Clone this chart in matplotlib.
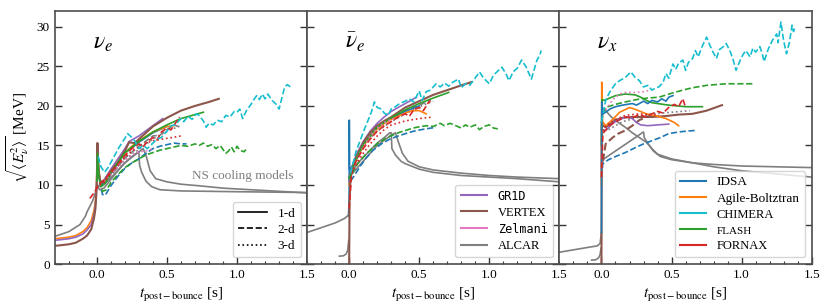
import matplotlib
matplotlib.use('Agg')
import matplotlib.pyplot as plt
from matplotlib.ticker import MultipleLocator
from matplotlib.lines import Line2D

plt.rcParams['font.family'] = 'Liberation Serif'
plt.rcParams['mathtext.fontset'] = 'stix'
plt.rcParams['font.size'] = 9.5

# ---------------- nu_e ----------------
t_nue_vertex = [-0.3, -0.2, -0.15, -0.1, -0.07, -0.04, -0.02, -0.01, -0.003, 0.0, 0.004, 0.012, 0.025, 0.05, 0.1, 0.15, 0.2, 0.23, 0.27, 0.3, 0.4, 0.5, 0.6, 0.7, 0.8, 0.87]
E_nue_vertex = [2.3, 2.5, 2.7, 3.2, 3.6, 4.4, 5.8, 7.0, 9.0, 10.5, 15.3, 12.0, 10.2, 10.4, 11.8, 12.9, 14.3, 15.4, 15.3, 15.8, 17.4, 18.5, 19.4, 20.0, 20.5, 20.9]
t_nue_gr1d = [-0.3, -0.2, -0.15, -0.1, -0.07, -0.04, -0.02, -0.01, -0.003, 0.0, 0.004, 0.012, 0.025, 0.05, 0.1, 0.15, 0.2, 0.23, 0.3, 0.4, 0.47]
E_nue_gr1d = [3.0, 3.2, 3.4, 3.8, 4.3, 5.0, 6.3, 7.5, 9.5, 11.0, 15.3, 12.0, 10.4, 10.6, 12.0, 13.3, 14.6, 15.5, 16.2, 17.5, 18.4]
t_nue_agile = [-0.3, -0.2, -0.15, -0.1, -0.07, -0.04, -0.02, -0.01, -0.003, 0.0, 0.004, 0.015, 0.03, 0.06, 0.1, 0.15, 0.2, 0.25, 0.3, 0.4, 0.5, 0.55]
E_nue_agile = [3.2, 3.4, 3.6, 4.1, 4.6, 5.5, 6.8, 8.0, 10.0, 11.5, 14.5, 11.5, 10.3, 10.5, 11.7, 12.9, 14.0, 14.9, 15.6, 16.7, 17.4, 17.5]
t_nue_idsa1 = [0.0, 0.004, 0.015, 0.03, 0.06, 0.1, 0.2, 0.3, 0.4, 0.5]
E_nue_idsa1 = [11.0, 14.8, 11.0, 10.0, 10.3, 11.5, 14.0, 15.4, 16.6, 17.4]
t_nue_flash1 = [0.0, 0.005, 0.015, 0.03, 0.06, 0.1, 0.2, 0.3, 0.4, 0.5, 0.6, 0.7, 0.76]
E_nue_flash1 = [10.5, 14.0, 11.0, 9.8, 10.2, 11.5, 14.1, 15.5, 16.7, 17.6, 18.4, 18.9, 19.2]
t_nue_flash2 = [0.02, 0.04, 0.07, 0.1, 0.15, 0.2, 0.25, 0.3, 0.35, 0.4, 0.45, 0.5, 0.55, 0.6, 0.65, 0.7, 0.73, 0.76, 0.79, 0.82, 0.85, 0.88, 0.9, 0.92, 0.94, 0.96, 0.98, 1.0, 1.02, 1.05, 1.07]
E_nue_flash2 = [10.5, 9.2, 9.4, 10.3, 11.3, 12.2, 12.8, 13.3, 13.8, 14.1, 14.4, 14.6, 14.8, 15.0, 14.9, 15.2, 15.0, 15.3, 14.9, 15.1, 14.6, 15.0, 14.5, 14.0, 14.3, 14.8, 14.2, 14.9, 14.4, 14.2, 14.6]
t_nue_idsa2 = [0.02, 0.04, 0.06, 0.1, 0.15, 0.2, 0.25, 0.3, 0.35, 0.4, 0.45, 0.5, 0.55, 0.6, 0.64]
E_nue_idsa2 = [10.5, 8.8, 8.7, 9.9, 11.1, 12.1, 12.8, 13.3, 14.0, 14.6, 14.9, 15.1, 15.3, 15.2, 15.2]
t_nue_chimera = [0.01, 0.03, 0.055, 0.08, 0.12, 0.16, 0.2, 0.22, 0.25, 0.27, 0.3, 0.33, 0.36, 0.4, 0.43, 0.46, 0.5, 0.53, 0.56, 0.6, 0.62, 0.65, 0.68, 0.71, 0.73, 0.76, 0.78, 0.8, 0.83, 0.86, 0.89, 0.92, 0.95, 0.98, 1.0, 1.02, 1.04, 1.07, 1.1, 1.12, 1.14, 1.16, 1.18, 1.2, 1.22, 1.25, 1.28, 1.3, 1.32, 1.34, 1.36, 1.38]
E_nue_chimera = [13.6, 12.3, 11.6, 12.2, 13.5, 14.8, 15.9, 16.5, 16.0, 15.6, 14.6, 15.0, 14.6, 15.3, 15.8, 16.0, 16.8, 17.5, 17.6, 18.4, 18.0, 18.7, 18.3, 19.0, 18.8, 18.1, 17.3, 17.8, 17.6, 18.2, 18.0, 18.8, 18.6, 19.3, 19.2, 19.6, 18.4, 19.5, 20.2, 20.8, 21.3, 20.8, 21.5, 20.9, 21.5, 20.7, 20.2, 19.6, 21.0, 22.4, 22.7, 22.4]
t_nue_fornax2 = [-0.05, -0.02, 0.0, 0.02, 0.05, 0.1, 0.15, 0.2, 0.25, 0.3, 0.33, 0.36, 0.4, 0.43, 0.46, 0.5, 0.53, 0.56, 0.59]
E_nue_fornax2 = [8.3, 9.0, 9.6, 10.2, 10.6, 11.6, 12.6, 13.7, 14.6, 15.2, 14.8, 15.5, 16.0, 15.7, 16.7, 17.2, 17.0, 17.8, 18.6]
t_nue_fornax3 = [0.02, 0.05, 0.1, 0.15, 0.2, 0.25, 0.3, 0.35, 0.4, 0.5, 0.6]
E_nue_fornax3 = [10.0, 10.3, 11.5, 12.5, 13.5, 14.3, 14.8, 15.3, 15.6, 15.9, 16.2]
t_nue_zelmani = [0.05, 0.1, 0.15, 0.2, 0.25, 0.3, 0.35, 0.4]
E_nue_zelmani = [10.5, 11.3, 12.3, 13.2, 13.8, 14.2, 14.3, 14.6]
t_nue_alcar1 = [-0.3, -0.2, -0.12, -0.08, -0.07, -0.05, -0.03, -0.01, 0.0]
E_nue_alcar1 = [3.5, 4.1, 5.0, 6.1, 6.6, 7.3, 8.0, 9.0, 10.0]
t_nue_alcar2 = [0.02, 0.05, 0.1, 0.2, 0.3, 0.4, 0.45, 0.5, 0.55, 0.58]
E_nue_alcar2 = [10.3, 10.2, 11.2, 13.4, 14.9, 16.2, 16.3, 17.0, 17.6, 17.4]
t_nue_alcar3 = [0.05, 0.1, 0.2, 0.3, 0.4, 0.5, 0.6]
E_nue_alcar3 = [10.5, 11.3, 13.2, 14.5, 15.8, 16.8, 17.5]
t_nue_cool_a = [0.0, 0.02, 0.05, 0.1, 0.15, 0.2, 0.25, 0.29, 0.3, 0.305, 0.32, 0.35, 0.39, 0.45, 0.6, 0.8, 1.0, 1.5]
E_nue_cool_a = [10.0, 9.4, 9.6, 10.7, 11.8, 12.8, 13.6, 14.1, 14.1, 12.5, 11.6, 10.5, 9.8, 9.4, 9.25, 9.2, 9.15, 9.05]
t_nue_cool_b = [0.0, 0.03, 0.1, 0.2, 0.3, 0.33, 0.35, 0.38, 0.42, 0.5, 0.6, 0.73, 0.9, 1.1, 1.3, 1.5]
E_nue_cool_b = [10.0, 9.8, 10.9, 12.8, 14.2, 14.6, 13.8, 11.8, 10.8, 10.4, 10.1, 9.9, 9.6, 9.4, 9.2, 9.0]

# ---------------- anti nu_e ----------------
t_nueb_vertex = [0.0, 0.003, 0.01, 0.03, 0.05, 0.1, 0.15, 0.2, 0.25, 0.3, 0.4, 0.5, 0.6, 0.7, 0.8, 0.87]
E_nueb_vertex = [0.0, 8.0, 11.0, 12.4, 13.5, 15.3, 16.6, 17.5, 18.1, 18.6, 19.8, 20.6, 21.4, 22.0, 22.6, 23.0]
t_nueb_gr1d = [0.0, 0.01, 0.03, 0.05, 0.1, 0.15, 0.2, 0.25, 0.3, 0.4, 0.48]
E_nueb_gr1d = [10.5, 11.5, 12.8, 13.8, 15.5, 16.8, 17.8, 18.6, 19.3, 20.3, 21.1]
t_nueb_agile = [0.0, 0.01, 0.03, 0.05, 0.1, 0.15, 0.2, 0.25, 0.3, 0.4, 0.45, 0.5, 0.55]
E_nueb_agile = [10.0, 11.3, 12.4, 13.2, 14.9, 16.2, 17.1, 17.8, 18.3, 19.1, 19.4, 19.4, 19.0]
t_nueb_idsa1 = [0.0, 0.001, 0.003, 0.01, 0.05, 0.1, 0.2, 0.3, 0.4, 0.5]
E_nueb_idsa1 = [6.0, 18.2, 12.0, 12.0, 13.4, 15.1, 17.3, 18.4, 19.3, 20.0]
t_nueb_flash1 = [0.0, 0.03, 0.1, 0.2, 0.3, 0.4, 0.5, 0.6, 0.71]
E_nueb_flash1 = [10.8, 12.5, 15.1, 17.3, 18.5, 19.5, 20.3, 21.0, 21.7]
t_nueb_flash2 = [0.02, 0.06, 0.12, 0.2, 0.27, 0.35, 0.42, 0.48, 0.55, 0.6, 0.65, 0.68, 0.72, 0.76, 0.8, 0.83, 0.86, 0.9, 0.93, 0.96, 1.0, 1.03, 1.06]
E_nueb_flash2 = [11.4, 12.7, 13.9, 15.2, 16.0, 16.6, 17.0, 17.3, 17.5, 17.4, 17.8, 17.5, 17.8, 17.5, 17.2, 17.6, 17.3, 17.6, 17.0, 17.4, 17.6, 17.2, 17.1]
t_nueb_idsa2 = [0.01, 0.03, 0.08, 0.12, 0.17, 0.23, 0.29, 0.35, 0.42, 0.48, 0.55, 0.62]
E_nueb_idsa2 = [10.5, 11.0, 12.4, 13.4, 14.4, 15.2, 15.8, 16.2, 16.6, 16.9, 17.1, 17.3]
t_nueb_chimera = [0.01, 0.02, 0.05, 0.08, 0.11, 0.14, 0.16, 0.18, 0.2, 0.23, 0.25, 0.28, 0.3, 0.33, 0.36, 0.4, 0.43, 0.46, 0.48, 0.5, 0.52, 0.55, 0.58, 0.62, 0.65, 0.68, 0.71, 0.74, 0.78, 0.8, 0.83, 0.86, 0.89, 0.93, 0.96, 1.0, 1.03, 1.06, 1.09, 1.12, 1.14, 1.17, 1.2, 1.23, 1.26, 1.28, 1.3, 1.32, 1.34, 1.36, 1.37]
E_nueb_chimera = [11.5, 12.2, 14.3, 15.7, 17.1, 18.4, 19.3, 20.5, 19.8, 19.6, 19.1, 18.8, 19.6, 19.9, 20.3, 20.6, 20.9, 20.5, 21.2, 21.9, 20.7, 21.8, 22.0, 22.8, 22.4, 22.9, 22.5, 23.0, 23.4, 22.3, 22.8, 22.6, 23.3, 24.3, 23.5, 22.8, 23.9, 24.4, 24.9, 24.0, 23.2, 24.3, 24.8, 25.8, 25.0, 24.2, 23.4, 24.6, 25.8, 26.4, 27.0]
t_nueb_fornax2 = [0.0, 0.02, 0.05, 0.1, 0.15, 0.2, 0.25, 0.3, 0.35, 0.4, 0.43, 0.46, 0.5, 0.53, 0.56, 0.58]
E_nueb_fornax2 = [7.0, 12.0, 13.0, 14.6, 15.8, 16.8, 17.5, 18.0, 18.6, 19.0, 18.7, 19.5, 19.8, 19.4, 20.3, 20.7]
t_nueb_fornax3 = [0.02, 0.05, 0.1, 0.15, 0.2, 0.25, 0.3, 0.4, 0.5, 0.6]
E_nueb_fornax3 = [11.5, 12.6, 14.0, 15.2, 16.2, 17.0, 17.6, 18.1, 18.4, 18.6]
t_nueb_zelmani = [0.05, 0.1, 0.15, 0.2, 0.25, 0.3, 0.35]
E_nueb_zelmani = [13.0, 14.8, 16.2, 17.2, 17.9, 18.3, 18.5]
t_nueb_alcar1 = [-0.3, -0.2, -0.1, -0.03, -0.005, 0.0]
E_nueb_alcar1 = [4.0, 4.6, 5.2, 5.8, 6.2, 8.0]
t_nueb_alcar1b = [-0.07, -0.04, -0.02, -0.01, -0.003]
E_nueb_alcar1b = [1.0, 1.05, 1.3, 1.8, 3.0]
t_nueb_alcar2 = [0.02, 0.1, 0.2, 0.3, 0.4, 0.5, 0.58]
E_nueb_alcar2 = [12.0, 15.0, 17.2, 18.5, 19.4, 20.1, 20.7]
t_nueb_alcar3 = [0.05, 0.1, 0.2, 0.3, 0.4, 0.5, 0.6]
E_nueb_alcar3 = [13.5, 15.0, 16.8, 18.0, 19.0, 19.9, 20.6]
t_nueb_cool_a = [0.0, 0.05, 0.1, 0.15, 0.2, 0.25, 0.29, 0.3, 0.305, 0.33, 0.37, 0.4, 0.5, 0.6, 0.8, 1.0, 1.2, 1.5]
E_nueb_cool_a = [11.0, 12.5, 13.5, 14.4, 15.3, 16.0, 16.6, 16.6, 14.6, 13.8, 13.0, 12.7, 12.0, 11.6, 11.2, 11.0, 10.8, 10.4]
t_nueb_cool_b = [0.0, 0.05, 0.1, 0.2, 0.3, 0.33, 0.35, 0.38, 0.42, 0.5, 0.6, 0.8, 1.0, 1.2, 1.5]
E_nueb_cool_b = [11.0, 12.0, 13.0, 15.0, 16.3, 16.6, 15.5, 14.0, 13.0, 12.3, 11.9, 11.5, 11.2, 11.0, 10.8]

# ---------------- nu_x ----------------
t_nux_vertex = [0.0, 0.002, 0.01, 0.03, 0.06, 0.1, 0.15, 0.22, 0.3, 0.36, 0.45, 0.55, 0.65, 0.75, 0.86]
E_nux_vertex = [0.0, 18.0, 17.5, 17.3, 17.7, 18.2, 18.5, 18.6, 18.6, 18.6, 18.7, 18.9, 19.0, 19.4, 20.1]
t_nux_vertex2 = [0.01, 0.03, 0.08, 0.12, 0.17, 0.22, 0.27, 0.32, 0.35]
E_nux_vertex2 = [13.0, 15.2, 16.0, 16.5, 16.9, 17.5, 18.2, 18.6, 18.8]
t_nux_gr1d = [0.0, 0.005, 0.03, 0.08, 0.13, 0.18, 0.22, 0.25, 0.28, 0.33, 0.4, 0.48]
E_nux_gr1d = [12.0, 17.0, 16.9, 17.8, 18.3, 18.6, 18.4, 17.9, 17.6, 17.5, 17.6, 17.7]
t_nux_agile = [0.0, 0.002, 0.008, 0.03, 0.08, 0.13, 0.2, 0.25, 0.32, 0.4, 0.46, 0.52, 0.55]
E_nux_agile = [10.0, 23.0, 18.0, 17.5, 18.3, 19.2, 19.8, 19.5, 19.0, 18.7, 18.4, 17.9, 17.5]
t_nux_idsa1 = [0.0, 0.002, 0.01, 0.03, 0.06, 0.1, 0.15, 0.22, 0.25, 0.3, 0.33, 0.36, 0.4, 0.43, 0.46, 0.48, 0.51]
E_nux_idsa1 = [4.0, 20.5, 19.0, 19.2, 19.6, 19.9, 20.1, 20.3, 20.1, 20.6, 20.3, 20.7, 20.5, 20.9, 20.6, 21.1, 21.3]
t_nux_idsa2 = [0.0, 0.01, 0.05, 0.1, 0.17, 0.25, 0.3, 0.36, 0.42, 0.48, 0.55, 0.6, 0.67]
E_nux_idsa2 = [11.0, 12.7, 13.2, 13.6, 14.1, 14.8, 15.2, 15.6, 16.0, 16.5, 16.7, 16.8, 16.9]
t_nux_chimera = [0.0, 0.03, 0.06, 0.1, 0.13, 0.17, 0.21, 0.24, 0.27, 0.3, 0.33, 0.36, 0.39, 0.41, 0.44, 0.46, 0.48, 0.51, 0.53, 0.55, 0.58, 0.6, 0.62, 0.65, 0.67, 0.69, 0.72, 0.75, 0.77, 0.79, 0.82, 0.84, 0.87, 0.89, 0.92, 0.94, 0.96, 0.99, 1.01, 1.03, 1.06, 1.08, 1.1, 1.13, 1.15, 1.16, 1.19, 1.22, 1.25, 1.26, 1.28, 1.3, 1.32, 1.34, 1.36, 1.37, 1.38]
E_nux_chimera = [18.0, 20.7, 21.8, 22.8, 23.2, 23.6, 24.3, 23.6, 23.2, 22.4, 22.6, 22.0, 22.3, 22.4, 23.0, 24.1, 23.5, 25.3, 24.6, 25.4, 25.8, 24.5, 25.5, 26.0, 27.0, 26.2, 27.6, 28.7, 27.8, 27.0, 26.0, 27.1, 27.5, 27.9, 26.8, 25.8, 24.5, 25.8, 26.5, 27.0, 26.2, 27.3, 26.8, 27.5, 26.4, 25.6, 27.2, 28.3, 29.1, 28.0, 30.6, 28.2, 26.6, 28.0, 30.2, 29.4, 30.0]
t_nux_flash1 = [0.0, 0.003, 0.02, 0.06, 0.1, 0.17, 0.24, 0.28, 0.32, 0.36, 0.4, 0.48, 0.6, 0.72]
E_nux_flash1 = [15.0, 20.8, 20.7, 21.0, 21.3, 21.5, 21.4, 21.1, 20.7, 20.4, 20.3, 20.1, 19.9, 19.9]
t_nux_flash2 = [0.01, 0.03, 0.1, 0.17, 0.25, 0.33, 0.41, 0.5, 0.58, 0.65, 0.75, 0.89, 1.0, 1.08]
E_nux_flash2 = [19.0, 19.8, 20.2, 20.5, 20.8, 21.0, 21.1, 21.6, 22.0, 22.3, 22.6, 22.8, 22.8, 22.8]
t_nux_fornax2 = [0.0, 0.01, 0.05, 0.1, 0.17, 0.22, 0.27, 0.32, 0.36, 0.4, 0.44, 0.48, 0.52, 0.55, 0.58, 0.6]
E_nux_fornax2 = [11.0, 16.5, 17.4, 18.0, 18.6, 18.5, 18.9, 18.6, 19.0, 19.3, 19.1, 19.8, 20.2, 19.9, 20.9, 19.8]
t_nux_fornax3 = [0.01, 0.03, 0.1, 0.17, 0.27, 0.35, 0.41]
E_nux_fornax3 = [16.8, 17.5, 18.3, 18.8, 19.0, 18.9, 18.8]
t_nux_zelmani = [0.03, 0.08, 0.13, 0.17, 0.25, 0.3, 0.35]
E_nux_zelmani = [19.5, 20.8, 21.5, 21.7, 21.7, 21.8, 22.0]
t_nux_alcar1 = [-0.3, -0.2, -0.1, -0.03, -0.01, 0.0]
E_nux_alcar1 = [1.5, 1.8, 2.1, 2.3, 2.6, 4.0]
t_nux_alcar1b = [-0.07, -0.04, -0.02, -0.01, -0.003]
E_nux_alcar1b = [0.5, 0.55, 0.8, 1.2, 2.0]
t_nux_alcar3 = [0.05, 0.15, 0.25, 0.36, 0.5, 0.63]
E_nux_alcar3 = [17.0, 18.0, 18.5, 19.0, 19.2, 19.4]
t_nux_cool_a = [0.0, 0.01, 0.05, 0.1, 0.15, 0.2, 0.25, 0.29, 0.3, 0.305, 0.33, 0.37, 0.42, 0.5, 0.65, 0.8, 1.0, 1.25, 1.5]
E_nux_cool_a = [12.5, 13.2, 13.7, 14.3, 14.9, 15.5, 16.1, 16.6, 16.7, 16.0, 15.3, 14.3, 13.6, 13.2, 12.8, 12.6, 12.4, 12.3, 12.2]
t_nux_cool_b = [0.0, 0.01, 0.03, 0.07, 0.12, 0.17, 0.22, 0.27, 0.32, 0.36, 0.4, 0.5, 0.65, 0.8, 1.0, 1.25, 1.5]
E_nux_cool_b = [17.0, 19.6, 19.4, 18.6, 17.9, 17.3, 16.6, 16.0, 15.4, 14.6, 13.9, 13.3, 12.8, 12.3, 11.8, 11.4, 11.0]

C = {'IDSA': 'tab:blue', 'Agile': 'tab:orange', 'FLASH': 'tab:green', 'FORNAX': 'tab:red',
     'GR1D': 'tab:purple', 'VERTEX': 'tab:brown', 'Zelmani': 'tab:pink', 'ALCAR': 'tab:gray',
     'CHIMERA': 'tab:cyan'}

panels = [
    [  # nu_e
        (t_nue_cool_a, E_nue_cool_a, 'ALCAR', '-'), (t_nue_cool_b, E_nue_cool_b, 'ALCAR', '-'),
        (t_nue_alcar1, E_nue_alcar1, 'ALCAR', '-'),
        (t_nue_alcar2, E_nue_alcar2, 'ALCAR', '--'), (t_nue_alcar3, E_nue_alcar3, 'ALCAR', ':'),
        (t_nue_idsa1, E_nue_idsa1, 'IDSA', '-'), (t_nue_idsa2, E_nue_idsa2, 'IDSA', '--'),
        (t_nue_flash2, E_nue_flash2, 'FLASH', '--'),
        (t_nue_agile, E_nue_agile, 'Agile', '-'), (t_nue_gr1d, E_nue_gr1d, 'GR1D', '-'),
        (t_nue_vertex, E_nue_vertex, 'VERTEX', '-'),
        (t_nue_flash1, E_nue_flash1, 'FLASH', '-'),
        (t_nue_zelmani, E_nue_zelmani, 'Zelmani', ':'),
        (t_nue_fornax2, E_nue_fornax2, 'FORNAX', '--'), (t_nue_fornax3, E_nue_fornax3, 'FORNAX', ':'),
        (t_nue_chimera, E_nue_chimera, 'CHIMERA', '--'),
    ],
    [  # anti nu_e
        (t_nueb_cool_a, E_nueb_cool_a, 'ALCAR', '-'), (t_nueb_cool_b, E_nueb_cool_b, 'ALCAR', '-'),
        (t_nueb_alcar1, E_nueb_alcar1, 'ALCAR', '-'), (t_nueb_alcar1b, E_nueb_alcar1b, 'ALCAR', '-'),
        (t_nueb_alcar2, E_nueb_alcar2, 'ALCAR', '--'), (t_nueb_alcar3, E_nueb_alcar3, 'ALCAR', ':'),
        (t_nueb_idsa1, E_nueb_idsa1, 'IDSA', '-'), (t_nueb_idsa2, E_nueb_idsa2, 'IDSA', '--'),
        (t_nueb_flash2, E_nueb_flash2, 'FLASH', '--'),
        (t_nueb_agile, E_nueb_agile, 'Agile', '-'), (t_nueb_gr1d, E_nueb_gr1d, 'GR1D', '-'),
        (t_nueb_vertex, E_nueb_vertex, 'VERTEX', '-'),
        (t_nueb_flash1, E_nueb_flash1, 'FLASH', '-'),
        (t_nueb_zelmani, E_nueb_zelmani, 'Zelmani', ':'),
        (t_nueb_fornax2, E_nueb_fornax2, 'FORNAX', '--'), (t_nueb_fornax3, E_nueb_fornax3, 'FORNAX', ':'),
        (t_nueb_chimera, E_nueb_chimera, 'CHIMERA', '--'),
    ],
    [  # nu_x
        (t_nux_cool_a, E_nux_cool_a, 'ALCAR', '-'), (t_nux_cool_b, E_nux_cool_b, 'ALCAR', '-'),
        (t_nux_alcar1, E_nux_alcar1, 'ALCAR', '-'), (t_nux_alcar1b, E_nux_alcar1b, 'ALCAR', '-'),
        (t_nux_alcar3, E_nux_alcar3, 'ALCAR', ':'),
        (t_nux_idsa2, E_nux_idsa2, 'IDSA', '--'),
        (t_nux_vertex2, E_nux_vertex2, 'VERTEX', '--'),
        (t_nux_vertex, E_nux_vertex, 'VERTEX', '-'),
        (t_nux_gr1d, E_nux_gr1d, 'GR1D', '-'),
        (t_nux_agile, E_nux_agile, 'Agile', '-'),
        (t_nux_flash2, E_nux_flash2, 'FLASH', '--'), (t_nux_flash1, E_nux_flash1, 'FLASH', '-'),
        (t_nux_idsa1, E_nux_idsa1, 'IDSA', '-'),
        (t_nux_zelmani, E_nux_zelmani, 'Zelmani', ':'),
        (t_nux_fornax2, E_nux_fornax2, 'FORNAX', '--'), (t_nux_fornax3, E_nux_fornax3, 'FORNAX', ':'),
        (t_nux_chimera, E_nux_chimera, 'CHIMERA', '--'),
    ],
]
flavours = [r'$\nu_e$', r'$\bar{\nu}_e$', r'$\nu_x$']

fig, axes = plt.subplots(1, 3, sharey=True, figsize=(8.3, 3.06), dpi=100)
fig.subplots_adjust(left=0.066, right=0.978, bottom=0.137, top=0.964, wspace=0)

for ax, curves, flav in zip(axes, panels, flavours):
    for t, E, code, ls in curves:
        lw = 1.5 if code == 'VERTEX' else 1.2
        ax.plot(t, E, color=C[code], ls=ls, lw=lw)
    ax.set_xlim(-0.3, 1.5)
    ax.set_ylim(0, 32)
    ax.set_xticks([0.0, 0.5, 1.0, 1.5])
    ax.xaxis.set_minor_locator(MultipleLocator(0.1))
    ax.set_yticks([0, 5, 10, 15, 20, 25, 30])
    ax.tick_params(which='both', direction='in', left=True, right=True, color='0.2', labelsize=9.5)
    ax.tick_params(which='major', length=5, width=1.0)
    ax.tick_params(which='minor', length=2.5, width=0.8, left=False, right=False)
    for s in ax.spines.values():
        s.set_color('0.3')
        s.set_linewidth(1.2)
    ax.set_xlabel(r'$t_{\rm post-bounce}$ [s]', fontsize=11)
    ax.text(0.15, 0.85, flav, transform=ax.transAxes, fontsize=17)

axes[0].set_ylabel(r'$\sqrt{\langle E_\nu^2\rangle}$ [MeV]', fontsize=11)
axes[0].text(0.68, 10.8, 'NS cooling models', color='tab:gray', fontsize=9.5)

# dimension legend
dim_handles = [Line2D([], [], color='k', ls='-', lw=1.2),
               Line2D([], [], color='k', ls='--', lw=1.2),
               Line2D([], [], color='k', ls=':', lw=1.2)]
axes[0].legend(dim_handles, ['1-d', '2-d', '3-d'], loc='lower right', fontsize=9.5,
               handlelength=2.2, labelspacing=0.3)

codes2 = ['GR1D', 'VERTEX', 'Zelmani', 'ALCAR']
labels2 = ['GR1D', 'VERTEX', 'Zelmani', 'ALCAR']
h2 = [Line2D([], [], color=C[c], lw=1.5) for c in codes2]
leg2 = axes[1].legend(h2, labels2, loc='lower right', fontsize=9.5, labelspacing=0.3)
for txt, c in zip(leg2.get_texts(), codes2):
    if c in ('GR1D', 'Zelmani'):
        txt.set_family('DejaVu Sans Mono')
        txt.set_fontsize(8.5)
    else:
        txt.set_fontsize(9)

codes3 = ['IDSA', 'Agile', 'CHIMERA', 'FLASH', 'FORNAX']
labels3 = ['IDSA', 'Agile-Boltztran', 'CHIMERA', 'FLASH', 'FORNAX']
h3 = [Line2D([], [], color=C[c], lw=1.5) for c in codes3]
leg3 = axes[2].legend(h3, labels3, loc='lower right', fontsize=9.5, labelspacing=0.3)
for txt, c in zip(leg3.get_texts(), codes3):
    if c == 'FLASH':
        txt.set_fontsize(8)
    elif c in ('CHIMERA', 'FORNAX'):
        txt.set_fontsize(9)

plt.savefig('out.png', dpi=100)
